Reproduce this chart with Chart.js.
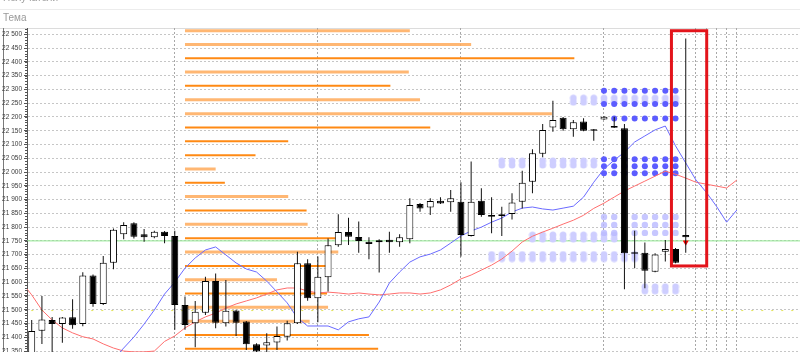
<!DOCTYPE html>
<html><head><meta charset="utf-8">
<script src="https://cdn.jsdelivr.net/npm/chart.js@4.4.1/dist/chart.umd.min.js"></script>
<style>
html,body{margin:0;padding:0;background:#fff;width:800px;height:352px;overflow:hidden;font-family:'Liberation Sans',Arial,sans-serif;}
#wrap{position:absolute;left:0;top:0;width:800px;height:352px;}
.hdr{position:absolute;left:3px;font-size:10px;color:#9a9a9a;white-space:nowrap;}
#sep1{position:absolute;left:0;top:9px;width:800px;height:0;border-top:1px solid #ececec;}
</style></head><body>
<div id="wrap"><canvas id="c" width="800" height="352"></canvas></div>
<div class="hdr" style="top:-8px">Получатели</div>
<div id="sep1"></div>
<div class="hdr" style="top:12px">Тема</div>
<script>
const open  = [21330,21424,21463,21448,21473,21448,21624,21521,21671,21774,
               21814,21774,21763,21783,21768,21517,21451,21489,21604,21451,
               21497,21457,21375,21370,21381,21402,21451,21669,21542,21618,
               21734,21782,21764,21747,21745,21754,21745,21756,21884,21871,
               21896,21890,21892,21768,21896,21844,21847,21848,21892,21965,
               22066,22162,22197,22155,22183,22155,22191,22167,22159,21709,
               21707,21638,21711,21721,21771];
const high  = [21463,21550,21474,21474,21538,21636,21628,21695,21795,21818,
               21818,21793,21787,21786,21787,21548,21532,21620,21632,21608,
               21500,21459,21378,21415,21439,21460,21711,21683,21693,21759,
               21847,21834,21820,21763,21756,21783,21774,21905,21888,21905,
               21908,21935,21963,22038,21941,21908,21874,21923,22005,22083,
               22174,22259,22200,22189,22195,22156,22203,22201,22174,21787,
               21744,21705,21753,21724,22485];
const low   = [21300,21376,21330,21380,21431,21440,21511,21517,21647,21756,
               21759,21747,21760,21741,21427,21427,21364,21481,21433,21439,
               21405,21354,21330,21340,21354,21388,21448,21533,21455,21566,
               21729,21735,21707,21683,21635,21707,21729,21741,21856,21844,
               21884,21856,21693,21766,21838,21778,21768,21828,21868,21923,
               22054,22146,22150,22128,22148,22114,22189,22160,21574,21651,
               21578,21636,21675,21669,21707];
const close = [21423,21465,21448,21472,21444,21624,21521,21671,21790,21808,
               21765,21763,21783,21768,21517,21445,21493,21604,21453,21496,
               21453,21375,21348,21382,21405,21451,21669,21542,21620,21734,
               21782,21765,21750,21739,21752,21745,21763,21880,21868,21895,
               21886,21905,21771,21892,21844,21838,21840,21889,21961,22068,
               22153,22189,22155,22181,22150,22150,22201,22161,21705,21703,
               21642,21701,21721,21671,21763];
const blueMA = [null,null,null,null,null,null,null,21260,21321,21361,
                21401,21448,21499,21557,21600,21651,21688,21717,21728,21699,
                21670,21648,21637,21604,21565,21525,21470,21441,21441,21441,
                21427,21456,21467,21474,21528,21597,21637,21673,21692,21702,
                21717,21742,21768,21786,21800,21818,21833,21855,21869,21873,
                21866,21862,21869,21876,21909,21963,22011,22043,22072,22109,
                22131,22153,22167,22095,22033,21971,21927,21876,21818,21862];
const redMAPrev = 21600;
const redMA  = [21554,21499,21463,21434,21416,21402,21394,21376,21361,21350,
                21347,21347,21350,21385,21405,21434,21456,21474,21488,21506,
                21521,21532,21543,21557,21572,21579,21579,21568,21561,21564,
                21561,21557,21561,21557,21554,21557,21561,21561,21557,21561,
                21572,21590,21612,21626,21644,21662,21684,21713,21746,21767,
                21782,21796,21811,21825,21843,21868,21887,21909,21931,21949,
                21967,21985,22003,21992,21978,21963,21956,21949,21942,21971];
const profileStart  = 15;
const profileLevels = [22513,22463,22413,22363,22313,22262,22212,22162,22112,22061,22011,21961,
                       21911,21860,21810,21760,21710,21659,21609,21559,21509,21458,21408,21358];
const profileEnd    = [37.0,43.0,53.1,36.9,35.1,38.0,50.9,39.0,25.1,21.9,18.0,18.9,
                       25.1,26.9,27.0,30.0,30.0,28.9,24.0,28.9,29.0,27.2,33.0,33.9];
const profileShade  = ['L','L','D','L','D','L','L','D','D','D','L','D',
                       'L','D','L','D','L','D','L','D','L','L','D','D'];
const darkDotPrices = [22295, 22247, 22194, 22046, 22021, 21996];
const darkDotSlots  = [[56,57,58,59,60,61,62,63],[56,57,58,59,60,61,62,63],[57,58,59,60,61,62,63],
                       [56,57,58,59,60,61,62,63],[56,57,58,59,60,61,62,63],[56,57,58,59,60,61,62,63]];
const paleDotPrices = [21837, 21808, 21779];
const paleDotSlots  = [[56,57,59,60,61,62,63],[56,57,59,60,61,62,63],[56,57,59,60,61,62,63]];
const blobPrices = [22261, 22033, 21764, 21693, 21576];
const blobSlots  = [[53,54,55,56,57,58,59,60,61,62,63],
                    [46,47,48,49,50,51,52,53,54,55],
                    [49,50,51,52,53,54,55,56,57],
                    [45,46,47,48,49,50,51,52,53,54,55,56,57,58,59],
                    [60,61,62,63]];
const greenLevel = 21750;
const yellowLevel = 21497;
const markerSlot = 64, markerPrice = 21745;
const highlightBox = {x0: 62.6, x1: 66.05, yTop: 22513, yBottom: 21659};
const separators = [14, 28, 42, 56, 65, 66, 67, 68, 69];
const yTicks = [21350,21400,21450,21500,21550,21600,21650,21700,21750,21800,21850,21900,
                21950,22000,22050,22100,22150,22200,22250,22300,22350,22400,22450,22500];

function fmt(v){ const t=Math.floor(v/1000), r=v%1000; return t+' '+String(r).padStart(3,'0'); }
function blob(color){
  const c=document.createElement('canvas'); c.width=8; c.height=12;
  const g=c.getContext('2d'); g.fillStyle=color;
  g.beginPath(); g.ellipse(4,4,3.4,3.6,0,0,Math.PI*2); g.fill();
  g.beginPath(); g.ellipse(4,8,3.4,3.6,0,0,Math.PI*2); g.fill();
  return c;
}
const blobImg = blob('rgb(206,206,255)');

const datasets = [];
datasets.push({
  type:'bar', grouped:false, barThickness:7, borderWidth:1, borderSkipped:false, inflateAmount:0,
  data: open.map((o,i)=>({x:i, y:[Math.min(o,close[i]), Math.max(o,close[i])]})),
  backgroundColor: open.map((o,i)=> close[i]>=o ? '#ffffff' : '#000000'),
  borderColor: '#000000'
});
datasets.push({
  type:'bar', grouped:false, barThickness:1, borderWidth:0, inflateAmount:0,
  data: low.map((l,i)=>({x:i, y:[l, high[i]]})),
  backgroundColor: '#111111'
});
datasets.push({type:'line', showLine:false, data:[{x:markerSlot,y:markerPrice}],
  pointStyle:'triangle', rotation:180, pointRadius:3.5, pointBackgroundColor:'#ff0000', pointBorderWidth:0});
datasets.push({type:'line', data: blueMA.map((v,i)=>({x:i,y:v})), borderColor:'#6a6aff', borderWidth:1, pointRadius:0, tension:0});
datasets.push({type:'line', data: [{x:-1,y:redMAPrev}].concat(redMA.map((v,i)=>({x:i,y:v}))), borderColor:'#ff6e6e', borderWidth:1, pointRadius:0, tension:0});
darkDotPrices.forEach((p,r)=>{
  datasets.push({type:'line', showLine:false, data: darkDotSlots[r].map(s=>({x:s,y:p})),
    pointRadius:3, pointBackgroundColor:'#5c5cff', pointBorderWidth:0});
});
paleDotPrices.forEach((p,r)=>{
  datasets.push({type:'line', showLine:false, data: paleDotSlots[r].map(s=>({x:s,y:p})),
    pointRadius:3.2, pointBackgroundColor:'rgba(185,185,255,0.8)', pointBorderWidth:0});
});
blobPrices.forEach((p,r)=>{
  datasets.push({type:'line', showLine:false, data: blobSlots[r].map(s=>({x:s,y:p})),
    pointStyle: blobImg, pointRadius:5});
});
profileLevels.forEach((p,k)=>{
  datasets.push({type:'line', data:[{x:profileStart,y:p},{x:profileEnd[k],y:p}],
    borderColor: profileShade[k]==='L' ? 'rgba(255,170,90,0.85)' : '#ff8a14',
    borderWidth: profileShade[k]==='L' ? 3 : 2, pointRadius:0, borderCapStyle:'butt'});
});
datasets.push({type:'line', data:[{x:-2,y:greenLevel},{x:80,y:greenLevel}], borderColor:'#8fe68f', borderWidth:1, pointRadius:0});
datasets.push({type:'line', data:[{x:-2,y:yellowLevel},{x:80,y:yellowLevel}], borderColor:'#e2e25a', borderWidth:1, borderDash:[2,8], pointRadius:0});

const framePlugin = {
  id:'frame',
  beforeDraw(chart){
    const {ctx, chartArea:a} = chart;
    ctx.save();
    ctx.strokeStyle='#dcdcdc'; ctx.lineWidth=1;
    ctx.beginPath(); ctx.moveTo(0, a.top+0.5); ctx.lineTo(800, a.top+0.5); ctx.stroke();
    ctx.strokeStyle='#7a7a7a';
    ctx.beginPath(); ctx.moveTo(3.5, a.top); ctx.lineTo(3.5, a.bottom); ctx.stroke();
    ctx.restore();
  },
  afterDraw(chart){
    const {ctx, chartArea:a} = chart;
    const ys = chart.scales.y;
    ctx.save();
    ctx.strokeStyle='#555'; ctx.lineWidth=1;
    ctx.beginPath();
    for(let v=21350; v<=22520; v+=10){
      const y=Math.round(ys.getPixelForValue(v))+0.5;
      if(y<a.top||y>a.bottom) continue;
      ctx.moveTo(a.left-2, y); ctx.lineTo(a.left+1, y);
    }
    ctx.stroke();
    ctx.restore();
  },
  afterDatasetsDraw(chart){
    const {ctx} = chart; const xs=chart.scales.x, ys=chart.scales.y;
    const x0=xs.getPixelForValue(highlightBox.x0), x1=xs.getPixelForValue(highlightBox.x1);
    const y0=ys.getPixelForValue(highlightBox.yTop), y1=ys.getPixelForValue(highlightBox.yBottom);
    ctx.save(); ctx.strokeStyle='#e3141b'; ctx.lineWidth=3;
    ctx.strokeRect(x0, y0, x1-x0, y1-y0); ctx.restore();
  }
};

new Chart(document.getElementById('c'), {
  type:'bar',
  data:{datasets},
  options:{
    responsive:false, animation:false, devicePixelRatio:1,
    layout:{autoPadding:false, padding:{top:28,left:0,right:0,bottom:0}},
    plugins:{legend:{display:false}, tooltip:{enabled:false}},
    scales:{
      x:{type:'linear', min:-0.46, max:75.18, offset:false,
         afterFit(s){ s.height=0; s.paddingLeft=0; s.paddingRight=0; s.paddingTop=0; s.paddingBottom=0; },
         afterBuildTicks(s){ s.ticks = separators.map(v=>({value:v})); },
         ticks:{display:false},
         grid:{offset:false, color:'#a8a8a8', drawTicks:false, lineWidth:1},
         border:{display:false, dash:[2,2]}},
      y:{type:'linear', min:21346.6, max:22522.9,
         afterFit(s){ s.width=27; s.paddingTop=0; s.paddingBottom=0; s.paddingLeft=0; s.paddingRight=0; },
         afterBuildTicks(s){ s.ticks = yTicks.map(v=>({value:v})); },
         ticks:{font:{size:6.5, family:'Liberation Sans'}, color:'#3a3a3a', padding:2, callback:v=>fmt(v)},
         grid:{color:'#c6c6c6', tickLength:3, tickColor:'#555'},
         border:{display:true, color:'#555', width:1, dash:[2,2]}}
    }
  },
  plugins:[framePlugin]
});
</script>
</body></html>
